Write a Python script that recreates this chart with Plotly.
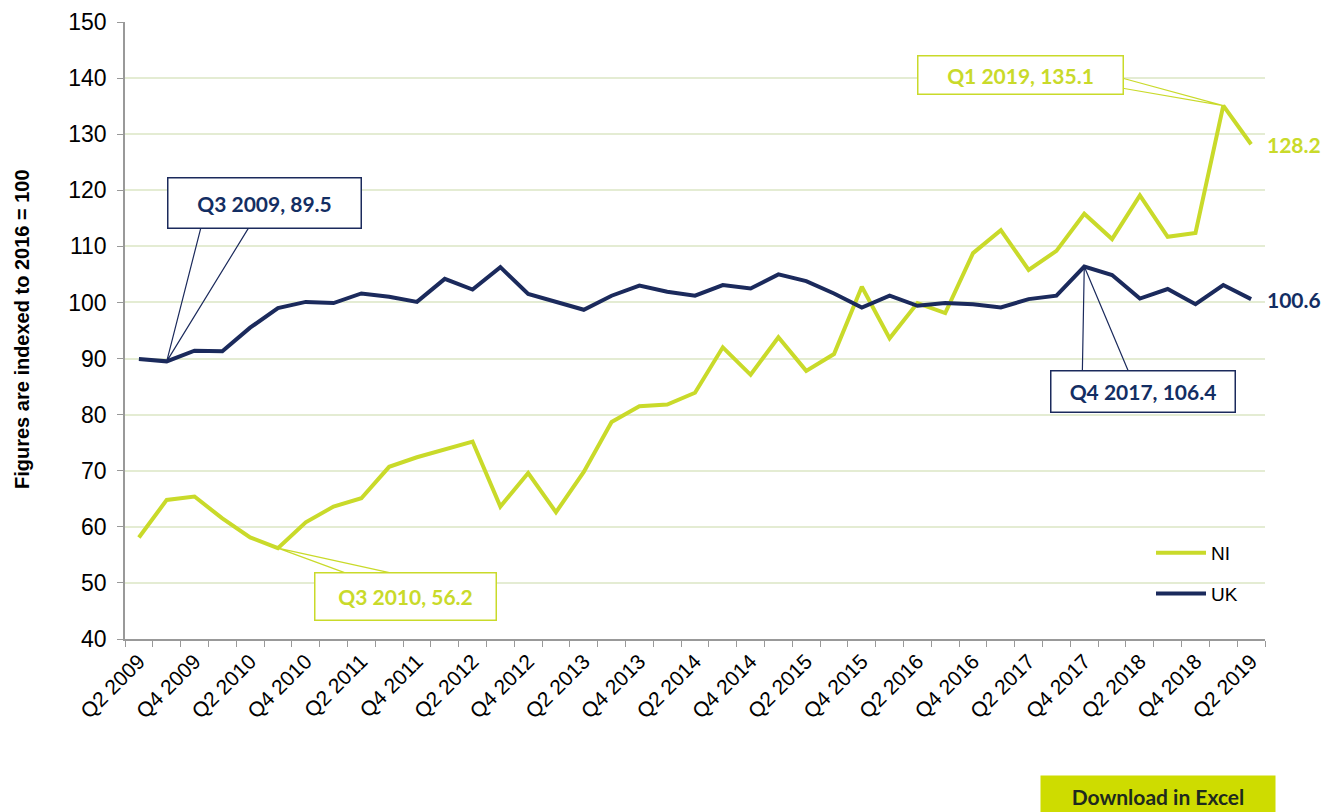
import plotly.graph_objects as go

quarters = []
for yr in range(2009, 2020):
    for q in range(1, 5):
        quarters.append(f"Q{q} {yr}")
quarters = quarters[quarters.index("Q2 2009"):quarters.index("Q2 2019") + 1]

ni = [58.1, 64.8, 65.4, 61.5, 58.1, 56.2, 60.8, 63.6, 65.1, 70.7, 72.4, 73.8, 75.2,
      63.6, 69.6, 62.6, 69.8, 78.7, 81.5, 81.8, 83.9, 92.0, 87.1, 93.8, 87.8, 90.8,
      102.8, 93.6, 99.9, 98.1, 108.8, 112.9, 105.8, 109.2, 115.8, 111.3, 119.1, 111.7,
      112.4, 135.1, 128.2]
uk = [89.9, 89.5, 91.4, 91.3, 95.5, 99.0, 100.1, 99.9, 101.6, 101.0, 100.1, 104.2,
      102.3, 106.3, 101.5, 100.1, 98.7, 101.2, 103.0, 101.9, 101.2, 103.1, 102.5, 105.0,
      103.8, 101.6, 99.1, 101.2, 99.4, 99.9, 99.7, 99.1, 100.6, 101.2, 106.4, 104.9,
      100.7, 102.4, 99.7, 103.1, 100.6]
tick_text = [q if q.startswith(("Q2", "Q4")) else "" for q in quarters]

NI_COL = "#C9DA2A"
UK_COL = "#1B2A5C"
UK_TXT = "#132E63"
LBL_FONT = "Lato"

fig = go.Figure()
fig.add_trace(go.Scatter(x=quarters, y=ni, mode="lines", name="NI", legendgroup="ni",
                         line=dict(color=NI_COL, width=4)))
fig.add_trace(go.Scatter(x=quarters, y=uk, mode="lines", name="UK", legendgroup="uk",
                         line=dict(color=UK_COL, width=4)))

def callout(idx, series, color, tcolor, ax, ay, w, h, p1, p2):
    q = quarters[idx]
    v = series[idx]
    fig.add_annotation(x=q, y=v, ax=ax, ay=ay, showarrow=True,
                       arrowcolor="rgba(0,0,0,0)", arrowwidth=0.1,
                       text=f"<b>{q}, {v}</b>", width=w, height=h,
                       font=dict(family=LBL_FONT, size=21, color=tcolor),
                       bordercolor=color, borderwidth=1.5, bgcolor="white",
                       align="center", valign="middle")
    fig.add_shape(type="path", xref="x", yref="y", xsizemode="pixel", ysizemode="pixel",
                  xanchor=q, yanchor=v,
                  path=f"M {p1[0]},{p1[1]} L 0,0 L {p2[0]},{p2[1]}",
                  line=dict(color=color, width=1.2), layer="above")

callout(1, uk, UK_COL, UK_TXT, 98, -158, 190, 47, (34, 133), (81.6, 133))
callout(5, ni, NI_COL, NI_COL, 128, 48, 178, 44, (68, -25), (113.7, -25))
callout(39, ni, NI_COL, NI_COL, -203, -31, 202, 35, (-100.5, 27.3), (-100.5, 17.3))
callout(34, uk, UK_COL, UK_TXT, 59, 125, 181, 38, (-1.9, -104.4), (44, -104.4))

fig.add_annotation(x=quarters[-1], y=ni[-1], text=f"<b>{ni[-1]}</b>", showarrow=False,
                   xanchor="left", xshift=14, font=dict(family=LBL_FONT, size=21, color=NI_COL))
fig.add_annotation(x=quarters[-1], y=uk[-1], text=f"<b>{uk[-1]}</b>", showarrow=False,
                   xanchor="left", xshift=14, font=dict(family=LBL_FONT, size=21, color=UK_TXT))

fig.add_annotation(xref="paper", yref="paper", x=-103 / 1140, y=(639 - 329) / 617,
                   text="<b>Figures are indexed to 2016 = 100</b>", textangle=-90,
                   showarrow=False, xanchor="center", yanchor="middle",
                   font=dict(family="Liberation Sans", size=20, color="black"))

fig.add_annotation(xref="paper", yref="paper", x=(1040 - 125) / 1140, y=-(775 - 639) / 617,
                   xanchor="left", yanchor="top", text="<b>Download in Excel</b>",
                   showarrow=False, bgcolor="#CEDC00", width=232, height=38,
                   font=dict(family=LBL_FONT, size=21, color="#1e2a1e"))

fig.update_layout(
    width=1330, height=804,
    margin=dict(l=117, r=73, t=14, b=173, autoexpand=False),
    paper_bgcolor="white", plot_bgcolor="white",
    font=dict(family="Liberation Sans", color="black"),
    showlegend=True,
    legend=dict(x=(1151 - 125) / 1140, y=(639 - 534) / 617, xanchor="left", yanchor="top",
                font=dict(family="Liberation Sans", size=19, color="black"),
                bgcolor="rgba(0,0,0,0)", tracegroupgap=13, itemwidth=50),
)
fig.update_xaxes(type="category", tickmode="array", tickvals=quarters, ticktext=tick_text,
                 tickangle=-45, tickson="boundaries", ticks="outside", ticklen=6,
                 tickcolor="#999999", showline=True, linecolor="#999999", linewidth=1.5,
                 showgrid=False, automargin=False,
                 tickfont=dict(family="Liberation Sans", size=21),
                 range=[-0.5, len(quarters) - 0.5])
fig.update_yaxes(range=[40, 150], dtick=10, ticks="outside", ticklen=6, tickcolor="#999999",
                 showline=True, linecolor="#999999", linewidth=1.5, automargin=False,
                 showgrid=True, gridcolor="#E4ECD3", gridwidth=1.5, zeroline=False,
                 ticklabelstandoff=6,
                 tickfont=dict(family="Liberation Sans", size=23))

fig.write_html("out.html")
